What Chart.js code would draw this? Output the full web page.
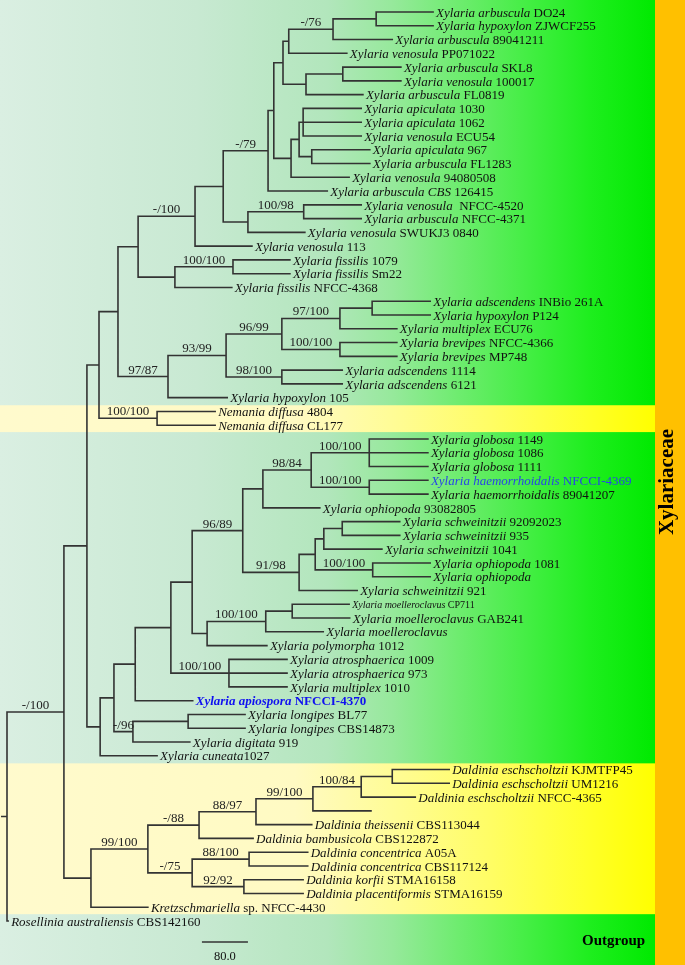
<!DOCTYPE html>
<html>
<head>
<meta charset="utf-8">
<script src="https://cdn.jsdelivr.net/npm/chart.js@4.4.0/dist/chart.umd.min.js"></script>
<style>
  html, body { margin: 0; padding: 0; background: #fff; }
  #wrap { position: relative; width: 685px; height: 965px; }
</style>
</head>
<body>
<div id="wrap"><canvas id="tree"></canvas></div>
<script>
// Tip labels, top to bottom: italic name and plain strain code
const taxonName = [
  'Xylaria arbuscula', 'Xylaria hypoxylon', 'Xylaria arbuscula', 'Xylaria venosula', 'Xylaria arbuscula',
  'Xylaria venosula', 'Xylaria arbuscula', 'Xylaria apiculata', 'Xylaria apiculata', 'Xylaria venosula',
  'Xylaria apiculata', 'Xylaria arbuscula', 'Xylaria venosula', 'Xylaria arbuscula CBS', 'Xylaria venosula',
  'Xylaria arbuscula', 'Xylaria venosula', 'Xylaria venosula', 'Xylaria fissilis', 'Xylaria fissilis',
  'Xylaria fissilis', 'Xylaria adscendens', 'Xylaria hypoxylon', 'Xylaria multiplex', 'Xylaria brevipes',
  'Xylaria brevipes', 'Xylaria adscendens', 'Xylaria adscendens', 'Xylaria hypoxylon', 'Nemania diffusa',
  'Nemania diffusa', 'Xylaria globosa', 'Xylaria globosa', 'Xylaria globosa', 'Xylaria haemorrhoidalis',
  'Xylaria haemorrhoidalis', 'Xylaria ophiopoda', 'Xylaria schweinitzii', 'Xylaria schweinitzii', 'Xylaria schweinitzii',
  'Xylaria ophiopoda', 'Xylaria ophiopoda', 'Xylaria schweinitzii', 'Xylaria moelleroclavus', 'Xylaria moelleroclavus',
  'Xylaria moelleroclavus', 'Xylaria polymorpha', 'Xylaria atrosphaerica', 'Xylaria atrosphaerica', 'Xylaria multiplex',
  'Xylaria apiospora', 'Xylaria longipes', 'Xylaria longipes', 'Xylaria digitata', 'Xylaria cuneata',
  'Daldinia eschscholtzii', 'Daldinia eschscholtzii', 'Daldinia eschscholtzii', '', 'Daldinia theissenii',
  'Daldinia bambusicola', 'Daldinia concentrica', 'Daldinia concentrica', 'Daldinia korfii', 'Daldinia placentiformis',
  'Kretzschmariella', 'Rosellinia australiensis'
];
const taxonCode = [
  'DO24', 'ZJWCF255', '89041211', 'PP071022', 'SKL8',
  '100017', 'FL0819', '1030', '1062', 'ECU54',
  '967', 'FL1283', '94080508', '126415', ' NFCC-4520',
  'NFCC-4371', 'SWUKJ3 0840', '113', '1079', 'Sm22',
  'NFCC-4368', 'INBio 261A', 'P124', 'ECU76', 'NFCC-4366',
  'MP748', '1114', '6121', '105', '4804',
  'CL177', '1149', '1086', '1111', 'NFCCI-4369',
  '89041207', '93082805', '92092023', '935', '1041',
  '1081', '', '921', 'CP711', 'GAB241',
  '', '1012', '1009', '973', '1010',
  'NFCCI-4370', 'BL77', 'CBS14873', '919', '1027',
  'KJMTFP45', 'UM1216', 'NFCC-4365', '', 'CBS113044',
  'CBS122872', 'A05A', 'CBS117124', 'STMA16158', 'STMA16159',
  'sp. NFCC-4430', 'CBS142160'
];

// Topology in Newick: tips are indexes into taxonName, ':' = branch length
// (same units as the scale bar), quoted label = support (ML/MP)
const cladeArbuscula = "((((((0:99,1:99):75,2:103)'-/76':77,3:101):10,((4:101,5:101):64,6:99):40):16,(((7:101,8:101,9:101):7,(10:101,11:101):22):14,12:101):30):10,13:103)'-/79'";
const cladeVenosula = `((${cladeArbuscula}:78,((14:100,15:100)'100/98':97,16:99):43):49,17:99)'-/100'`;
const cladeFissilis = "((18:99,19:99)'100/100':101,20:99)";
const cladeAdscendens = "(((((21:101,22:101):56,23:99)'97/100':101,(24:99,25:99)'100/100':101)'96/99':97,(26:105,27:105)'98/100':97)'93/99':101,28:103)'97/87'";
const cladeNemania = "(29:101,30:101)'100/100'";
const cladeGlobosa = "(((31:102,32:102,33:102)'100/100':101,(34:102,35:102)'100/100':101)'98/84':84,36:99)";
const cladeSchweinitzii = "((((37:100,38:100):32,39:101):15,(40:100,41:100)'100/100':100):28,42:101)'91/98'";
const cladeMoelleroclavus = "(((43:99,44:100):46,45:100)'100/100':102,46:104)";
const cladeAtrosphaerica = "(47:101,48:101,49:101)'100/100'";
const cladeLongipes = "((51:99,52:99):96,53:99)'-/96'";
const cladeEschscholtzii = "((((55:99,56:99):54,57:94)'100/84':84,58:101)'99/100':99,59:97)'88/97'";
const cladeConcentrica = "((61:102,62:102)'88/100':99,(63:103,64:103)'92/92':90)'-/75'";

const cladeUpper = `(((${cladeVenosula}:99,${cladeFissilis}:64):35,${cladeAdscendens}:87):33,${cladeNemania}:101)`;
const cladeLower = `((((((${cladeGlobosa}:35,${cladeSchweinitzii}:98)'96/89':88,${cladeMoelleroclavus}:26):37,${cladeAtrosphaerica}:101):62,50:100):37,${cladeLongipes}:33):24,54:99)`;
const cladeDaldinia = `(((${cladeEschscholtzii}:99,60:94)'-/88':89,${cladeConcentrica}:77)'99/100':99,65:99)`;
const newick = `(((${cladeUpper}:21,${cladeLower}:23):40,${cladeDaldinia}:47)'-/100':99,66:2):9`;

const yellowGroups = [[29, 30], [55, 65]];   // Nemania, Daldinia group bands
const scaleBarLength = 80;

// styling
const FONT = "'Liberation Serif', 'Times New Roman', serif";
const LINE_COLOR = '#333';
const sideBarWidth = 30;
const tipStyle = {
  34: { color: '#2846e6' },
  50: { color: '#1010f0', bold: true },
  43: { size: 10 }
};
const tightTips = new Set([54]); // "cuneata1027"
const greenStops = [[0, '#daefe2'], [0.3, '#c8e9d2'], [0.5, '#b2e6bc'], [0.6, '#96e99b'],
  [0.7, '#6eec6f'], [0.8, '#46ee46'], [0.9, '#1eee1e'], [1, '#00ea00']];
const yellowStops = [[0, '#fffacd'], [0.45, '#fffac3'], [0.6, '#fffc96'], [0.75, '#fffd64'],
  [0.9, '#ffff28'], [1, '#ffff00']];

function parseNewick(s) {
  let i = 0;
  function node(parent) {
    const n = { children: [], parent };
    if (s[i] === '(') {
      i++;
      n.children.push(node(n));
      while (s[i] === ',') { i++; n.children.push(node(n)); }
      i++;
    }
    let name = '';
    if (s[i] === "'") { i++; while (s[i] !== "'") name += s[i++]; i++; }
    else while (i < s.length && !':,)'.includes(s[i])) name += s[i++];
    if (n.children.length) n.support = name; else n.tip = +name;
    n.len = 0;
    if (s[i] === ':') {
      i++;
      let num = '';
      while (i < s.length && !',)'.includes(s[i])) num += s[i++];
      n.len = +num;
    }
    return n;
  }
  return node(null);
}

const root = parseNewick(newick);
const nodes = [];
function layout(n, depth) {
  n.x = depth;
  nodes.push(n);
  if (n.children.length) {
    n.children.forEach(c => layout(c, depth + c.len));
    n.y = (n.children[0].y + n.children[n.children.length - 1].y) / 2;
  } else {
    n.y = n.tip;
  }
}
layout(root, 0);

// branch polylines, separated by gaps
const branchPoints = [{ x: -root.len, y: root.y }, { x: 0, y: root.y }, { x: null, y: null }];
nodes.filter(n => n.children.length).forEach(n => {
  const first = n.children[0], last = n.children[n.children.length - 1];
  branchPoints.push({ x: first.x, y: first.y }, { x: n.x, y: first.y },
    { x: n.x, y: last.y }, { x: last.x, y: last.y }, { x: null, y: null });
  n.children.slice(1, -1).forEach(c => {
    branchPoints.push({ x: n.x, y: c.y }, { x: c.x, y: c.y }, { x: null, y: null });
  });
});

const bandPlugin = {
  id: 'bands',
  beforeDraw(chart) {
    const { ctx, width, height, scales: { y } } = chart;
    const right = width - sideBarWidth;
    ctx.save();
    const green = ctx.createLinearGradient(0, 0, right, 0);
    greenStops.forEach(([p, c]) => green.addColorStop(p, c));
    ctx.fillStyle = green;
    ctx.fillRect(0, 0, right, height);
    const yellow = ctx.createLinearGradient(0, 0, right, 0);
    yellowStops.forEach(([p, c]) => yellow.addColorStop(p, c));
    ctx.fillStyle = yellow;
    yellowGroups.forEach(([a, b]) => {
      const top = y.getPixelForValue(a - 0.45);
      const bottom = y.getPixelForValue(b + 0.5);
      ctx.fillRect(0, top, right, bottom - top);
    });
    ctx.fillStyle = '#ffc000';
    ctx.fillRect(right, 0, width - right, height);
    ctx.restore();
  }
};

const labelPlugin = {
  id: 'treeLabels',
  afterDatasetsDraw(chart) {
    const { ctx, width, scales: { x, y } } = chart;
    ctx.save();
    ctx.textBaseline = 'alphabetic';

    // tip names
    nodes.filter(n => !n.children.length).forEach(n => {
      const i = n.tip;
      const st = tipStyle[i] || {};
      const size = st.size || 13;
      const weight = st.bold ? 'bold ' : '';
      let px = x.getPixelForValue(n.x) + 3;
      const py = y.getPixelForValue(n.y) + size * 0.36;
      ctx.fillStyle = st.color || '#111';
      ctx.textAlign = 'left';
      ctx.font = `italic ${weight}${size}px ${FONT}`;
      ctx.fillText(taxonName[i], px, py);
      px += ctx.measureText(taxonName[i]).width;
      if (taxonCode[i]) {
        ctx.font = `${weight}${size}px ${FONT}`;
        ctx.fillText((tightTips.has(i) ? '' : ' ') + taxonCode[i], px, py);
      }
    });

    // support values above the branch leading to each node
    ctx.fillStyle = '#222';
    ctx.font = `13px ${FONT}`;
    ctx.textAlign = 'center';
    nodes.filter(n => n.support).forEach(n => {
      const cx = (x.getPixelForValue(n.parent.x) + x.getPixelForValue(n.x)) / 2;
      ctx.fillText(n.support, cx, y.getPixelForValue(n.y) - 3);
    });

    // scale bar
    const sx0 = x.getPixelForValue(339);
    const sx1 = x.getPixelForValue(339 + scaleBarLength);
    const sy = y.getPixelForValue(67.52);
    ctx.strokeStyle = LINE_COLOR;
    ctx.lineWidth = 1.6;
    ctx.beginPath();
    ctx.moveTo(sx0, sy);
    ctx.lineTo(sx1, sy);
    ctx.stroke();
    ctx.fillStyle = '#111';
    ctx.font = `12.5px ${FONT}`;
    ctx.fillText(scaleBarLength.toFixed(1), (sx0 + sx1) / 2, sy + 18);

    // group names
    ctx.font = `bold 15px ${FONT}`;
    ctx.textAlign = 'left';
    ctx.fillStyle = '#000';
    ctx.fillText('Outgroup', 582, 945);
    ctx.translate(width - sideBarWidth / 2 + 3, 482);
    ctx.rotate(-Math.PI / 2);
    ctx.font = `bold 21px ${FONT}`;
    ctx.textAlign = 'center';
    ctx.fillText('Xylariaceae', 0, 0);
    ctx.restore();
  }
};

new Chart(document.getElementById('tree'), {
  type: 'scatter',
  data: {
    datasets: [{
      data: branchPoints,
      showLine: true,
      spanGaps: false,
      borderColor: LINE_COLOR,
      borderWidth: 1.6,
      borderJoinStyle: 'miter',
      borderCapStyle: 'square',
      pointRadius: 0,
      pointHoverRadius: 0
    }]
  },
  options: {
    responsive: true,
    maintainAspectRatio: false,
    animation: false,
    events: [],
    layout: { padding: 0 },
    plugins: { legend: { display: false }, tooltip: { enabled: false } },
    scales: {
      x: { type: 'linear', display: false, min: -12.17, max: 1179.1 },
      y: { type: 'linear', display: false, reverse: true, min: -0.871, max: 69.19 }
    }
  },
  plugins: [bandPlugin, labelPlugin]
});
</script>
</body>
</html>
